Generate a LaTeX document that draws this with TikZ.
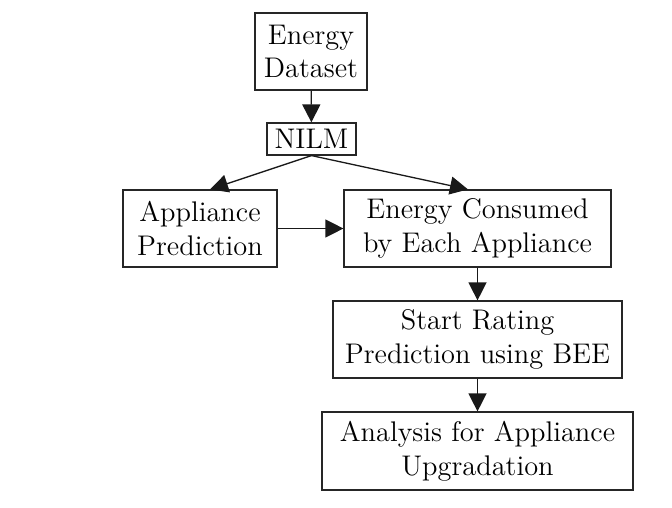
\documentclass[tikz,border=0pt]{standalone}
\usetikzlibrary{arrows.meta}
\begin{document}
\begin{tikzpicture}[x=0.5pt,y=-0.5pt,
  box/.style={draw=black!85,line width=0.6pt,align=center,inner sep=0pt,
    font=\fontsize{14.2}{16.8}\selectfont},
  arr/.style={draw=black!90,line width=0.65pt,-{Triangle[length=9pt,width=9pt]}}]
\useasboundingbox (0,0) rectangle (672,507);
\node[box,minimum width=56pt,minimum height=38.5pt] (ds) at (311,51.5) {Energy\\Dataset};
\node[box,minimum width=44.5pt,minimum height=16pt] (nilm) at (311.5,139) {NILM};
\node[box,minimum width=77pt,minimum height=38.5pt] (app) at (200,228.5) {Appliance\\Prediction};
\node[box,minimum width=133.5pt,minimum height=38.5pt] (ec) at (477.5,228.5) {Energy Consumed\\by Each Appliance};
\node[box,minimum width=144.5pt,minimum height=38.5pt] (sr) at (477.5,339.5) {Start Rating\\Prediction using BEE};
\node[box,minimum width=155.5pt,minimum height=39pt] (an) at (477.5,451) {Analysis for Appliance\\Upgradation};
\draw[arr] (ds) -- (nilm);
\draw[arr] (nilm.south) -- ([xshift=5pt]app.north);
\draw[arr] (nilm.south) -- ([xshift=-4.75pt]ec.north);
\draw[arr] (app) -- (ec);
\draw[arr] (ec) -- (sr);
\draw[arr] (sr) -- (an);
\end{tikzpicture}
\end{document}
